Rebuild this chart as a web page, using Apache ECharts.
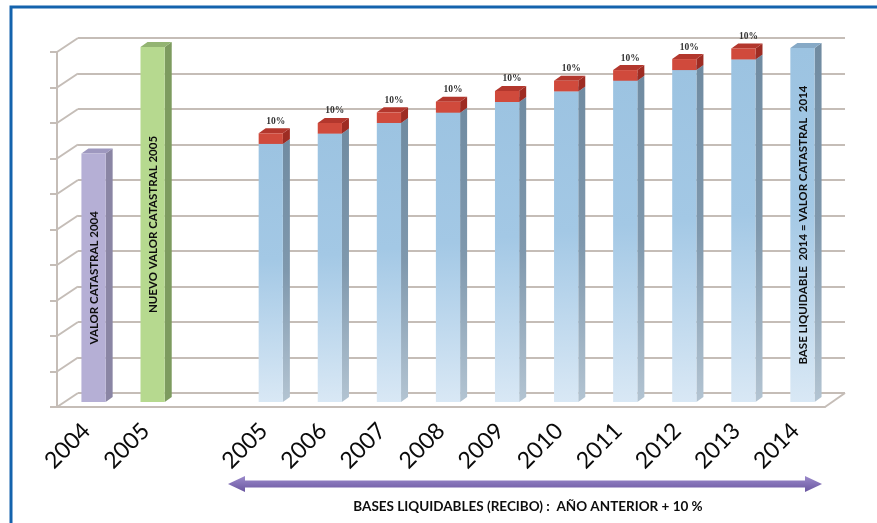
<!DOCTYPE html>
<html>
<head>
<meta charset="utf-8">
<script src="https://cdn.jsdelivr.net/npm/echarts@6/dist/echarts.min.js"></script>
<style>
  html, body { margin: 0; padding: 0; background: #fff; }
  #chart { width: 877px; height: 523px; }
</style>
</head>
<body>
<div id="chart"></div>
<script>
// categories: two catastral bars, a gap, then the yearly liquid bases
const categories = ['2004', '2005', '', '2005', '2006', '2007', '2008', '2009', '2010', '2011', '2012', '2013', '2014'];
const yTicks = [0, 1, 2, 3, 4, 5, 6, 7, 8, 9, 10];

const valorCatastral2004 = 7;
const valorCatastral2005 = 10;
// base liquidable 2005..2014 (category index 3..12)
const baseLiquidable = [7.27, 7.56, 7.86, 8.15, 8.45, 8.75, 9.05, 9.35, 9.65, 9.97];
// yearly increment on top of each base, 2005..2013
const incremento = [0.3, 0.3, 0.3, 0.31, 0.31, 0.3, 0.3, 0.31, 0.31];
const incrementoLabel = '10%';

const barNotes = {
  0: 'VALOR CATASTRAL 2004',
  1: 'NUEVO VALOR CATASTRAL 2005',
  12: 'BASE LIQUIDABLE  2014 = VALOR CATASTRAL  2014'
};

const chart = echarts.init(document.getElementById('chart'));
const lineCol = '#c5bdb7';
const DX = 7, DY = 5;

function grad(stops) {
  return new echarts.graphic.LinearGradient(0, 0, 0, 1, stops.map(c => ({ offset: c[0], color: c[1] })));
}

function bar3d(pal, withLabel) {
  return function (params, api) {
    const i = api.value(0);
    const lo = api.coord([i, api.value(1)]);
    const hi = api.coord([i, api.value(2)]);
    const w = api.size([1, 0])[0] * 0.41;
    const x0 = lo[0] - w / 2, x1 = lo[0] + w / 2;
    const children = [
      { type: 'polygon', shape: { points: [[x1, hi[1]], [x1 + DX, hi[1] - DY], [x1 + DX, lo[1] - DY], [x1, lo[1]]] },
        style: { fill: pal.side() } },
      { type: 'polygon', shape: { points: [[x0, hi[1]], [x0 + DX, hi[1] - DY], [x1 + DX, hi[1] - DY], [x1, hi[1]]] },
        style: { fill: pal.top } },
      { type: 'rect', shape: { x: x0, y: hi[1], width: w, height: lo[1] - hi[1] },
        style: { fill: pal.front() } }
    ];
    const note = barNotes[i];
    if (note && !withLabel) {
      children.push({
        type: 'text', x: lo[0] + 0.5, y: (hi[1] + lo[1]) / 2, rotation: Math.PI / 2,
        style: { text: note, font: 'bold 11.5px Lato', fill: '#0d0d0d', align: 'center', verticalAlign: 'middle' }
      });
    }
    if (withLabel) {
      children.push({
        type: 'text', x: lo[0] + 5, y: hi[1] - DY - 7,
        style: { text: incrementoLabel, font: 'bold 9.5px "Liberation Serif"', fill: '#333', align: 'center', verticalAlign: 'middle' }
      });
    }
    return { type: 'group', children: children };
  };
}

const violet = { front: () => '#b5afd5', side: () => '#8a85a4', top: '#9e98bf' };
const green = { front: () => '#b6d98f', side: () => '#7d9b5f', top: '#93b472' };
const blue = {
  front: () => grad([[0, '#9cc3e1'], [0.45, '#a3c8e5'], [1, '#d9e8f5']]),
  side: () => grad([[0, '#708ba1'], [0.5, '#7f98ad'], [1, '#b3c4d2']]),
  top: '#86a9c6'
};
const red = { front: () => '#d04a3c', side: () => '#9e2c23', top: '#b3372d' };

const option = {
  animation: false,
  backgroundColor: '#fff',
  grid: [
    { left: 78, right: 32, top: 38, bottom: 130 },
    { left: 57, right: 52, top: 52, bottom: 116 },
    { left: 64, right: 45, top: 47, bottom: 121 }
  ],
  xAxis: [
    { gridIndex: 0, type: 'category', data: categories, show: false },
    {
      gridIndex: 1, type: 'category', data: categories,
      axisLine: { lineStyle: { color: lineCol, width: 2 } },
      axisTick: { length: 7, interval: 0, lineStyle: { color: lineCol, width: 2 } },
      axisLabel: { interval: 0, rotate: 45, margin: 20, fontSize: 23, color: '#0a0a0a', fontFamily: 'Lato' }
    },
    { gridIndex: 2, type: 'category', data: categories, show: false }
  ],
  yAxis: [
    {
      gridIndex: 0, type: 'value', min: 0, max: 10, interval: 1,
      axisLine: { show: false }, axisTick: { show: false }, axisLabel: { show: false },
      splitLine: { lineStyle: { color: lineCol, width: 2 } }
    },
    {
      gridIndex: 1, type: 'value', min: 0, max: 10, interval: 1,
      axisLine: { show: true, lineStyle: { color: lineCol, width: 2 } },
      axisTick: { show: true, length: 7, lineStyle: { color: lineCol, width: 2 } },
      axisLabel: { show: false }, splitLine: { show: false }
    },
    { gridIndex: 2, type: 'value', min: 0, max: 10, show: false }
  ],
  series: [
    {
      // diagonals joining the front axis with the back wall
      type: 'custom', xAxisIndex: 0, yAxisIndex: 0, silent: true,
      data: yTicks.map(v => [0, v]),
      renderItem: function (params, api) {
        const cs = params.coordSys;
        const y = api.coord([0, api.value(1)])[1];
        const kids = [{ type: 'line', shape: { x1: cs.x, y1: y, x2: cs.x - 21, y2: y + 14 }, style: { stroke: lineCol, lineWidth: 2 } }];
        if (api.value(1) === 0) {
          kids.push({ type: 'line', shape: { x1: cs.x + cs.width, y1: y, x2: cs.x + cs.width - 20, y2: y + 14 }, style: { stroke: lineCol, lineWidth: 2 } });
        }
        return { type: 'group', children: kids };
      }
    },
    { type: 'custom', xAxisIndex: 2, yAxisIndex: 2, data: [[0, 0, valorCatastral2004]], renderItem: bar3d(violet) },
    { type: 'custom', xAxisIndex: 2, yAxisIndex: 2, data: [[1, 0, valorCatastral2005]], renderItem: bar3d(green) },
    { type: 'custom', xAxisIndex: 2, yAxisIndex: 2, data: baseLiquidable.map((v, k) => [k + 3, 0, v]), renderItem: bar3d(blue) },
    { type: 'custom', xAxisIndex: 2, yAxisIndex: 2, data: incremento.map((d, k) => [k + 3, baseLiquidable[k], baseLiquidable[k] + d]), renderItem: bar3d(red, true) }
  ],
  graphic: [
    { type: 'rect', shape: { x: 11, y: 7, width: 900, height: 560 }, style: { fill: 'none', stroke: '#1463ad', lineWidth: 3 } },
    {
      type: 'polygon',
      shape: { points: [[228, 484], [245, 476], [245, 480.5], [805, 480.5], [805, 476], [822, 484], [805, 492], [805, 487.5], [245, 487.5], [245, 492]] },
      style: { fill: grad([[0, '#9b8acb'], [1, '#6a56a0']]) }
    },
    {
      type: 'text', x: 528, y: 507,
      style: { text: 'BASES LIQUIDABLES (RECIBO) :  AÑO ANTERIOR + 10 %', font: 'bold 13.5px Lato', fill: '#0d0d0d', align: 'center', verticalAlign: 'middle' }
    }
  ]
};

chart.setOption(option);
</script>
</body>
</html>
